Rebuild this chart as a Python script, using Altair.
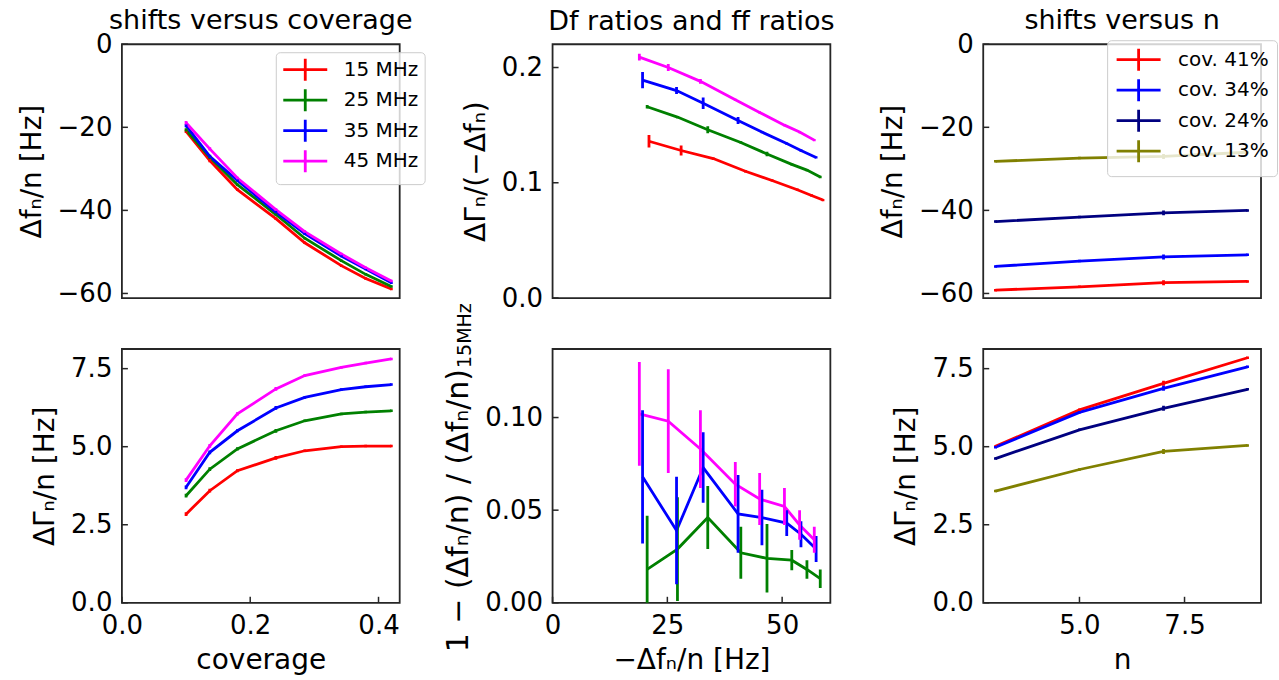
import altair as alt
import pandas as pd

FONT = "DejaVu Sans"
W, H = 278, 254

# ---------------- data ----------------
coverage = [0.10, 0.137, 0.18, 0.24, 0.285, 0.342, 0.38, 0.42]
freq_labels = ["15 MHz", "25 MHz", "35 MHz", "45 MHz"]
freq_colors = ["#ff0000", "#008000", "#0000ff", "#ff00ff"]

# Delta f_n / n [Hz] versus coverage
shift_15 = [-21.0, -28.0, -35.0, -42.0, -47.8, -53.3, -56.4, -58.9]
shift_25 = [-20.6, -27.2, -33.8, -41.0, -46.7, -52.1, -55.4, -58.3]
shift_35 = [-19.6, -27.0, -32.8, -40.4, -45.6, -51.0, -54.1, -57.4]
shift_45 = [-18.9, -25.2, -32.2, -39.8, -45.1, -50.5, -53.8, -57.0]
shift_err = [0.4, 0.4, 0.3, 0.3, 0.3, 0.3, 0.3, 0.3]

# Delta Gamma_n / n [Hz] versus coverage
width_15 = [2.84, 3.59, 4.23, 4.64, 4.87, 5.00, 5.02, 5.02]
width_25 = [3.43, 4.28, 4.93, 5.51, 5.83, 6.05, 6.11, 6.15]
width_35 = [3.70, 4.82, 5.51, 6.24, 6.58, 6.83, 6.92, 6.99]
width_45 = [3.93, 5.03, 6.05, 6.85, 7.28, 7.54, 7.68, 7.81]
width_err = [0.06, 0.06, 0.05, 0.06, 0.04, 0.04, 0.04, 0.04]

# Delta Gamma_n / (-Delta f_n)
ratio_15 = [0.136, 0.128, 0.121, 0.110, 0.102, 0.094, 0.089, 0.085]
ratio_25 = [0.166, 0.157, 0.146, 0.135, 0.125, 0.116, 0.111, 0.105]
ratio_35 = [0.189, 0.180, 0.169, 0.154, 0.144, 0.134, 0.128, 0.122]
ratio_45 = [0.209, 0.200, 0.188, 0.172, 0.161, 0.150, 0.144, 0.137]
ratio_err_15 = [0.0055, 0.0043, 0.001, 0.001, 0.001, 0.001, 0.001, 0.001]
ratio_err_25 = [0.0015, 0.001, 0.003, 0.001, 0.002, 0.001, 0.001, 0.001]
ratio_err_35 = [0.007, 0.003, 0.005, 0.003, 0.001, 0.001, 0.001, 0.001]
ratio_err_45 = [0.003, 0.003, 0.002, 0.001, 0.001, 0.001, 0.001, 0.001]

# 1 - (Delta f_n/n) / (Delta f_n/n)_15MHz
rel_25 = [0.018, 0.029, 0.046, 0.027, 0.024, 0.023, 0.018, 0.013]
rel_35 = [0.068, 0.039, 0.073, 0.048, 0.046, 0.043, 0.037, 0.029]
rel_45 = [0.102, 0.098, 0.083, 0.064, 0.056, 0.052, 0.042, 0.034]
rel_err_25 = [0.029, 0.028, 0.017, 0.014, 0.0185, 0.0055, 0.005, 0.005]
rel_err_35 = [0.036, 0.029, 0.019, 0.021, 0.015, 0.007, 0.007, 0.007]
rel_err_45 = [0.028, 0.028, 0.021, 0.012, 0.014, 0.010, 0.008, 0.007]

# versus overtone order n
n_values = [3, 5, 7, 9]
cov_labels = ["cov. 41%", "cov. 34%", "cov. 24%", "cov. 13%"]
cov_colors = ["#ff0000", "#0000ff", "#000080", "#808000"]
nshift_41 = [-59.2, -58.4, -57.4, -57.1]
nshift_34 = [-53.5, -52.2, -51.2, -50.7]
nshift_24 = [-42.7, -41.6, -40.6, -40.0]
nshift_13 = [-28.2, -27.4, -27.0, -26.0]
nshift_err = [0.3, 0.3, 0.6, 0.3]
nwidth_41 = [5.01, 6.18, 7.03, 7.85]
nwidth_34 = [4.98, 6.10, 6.87, 7.56]
nwidth_24 = [4.62, 5.54, 6.23, 6.84]
nwidth_13 = [3.58, 4.27, 4.85, 5.04]
nwidth_err = [0.04, 0.04, 0.08, 0.04]


def table(labels, xs, ys, es):
    rows = []
    for lab, x, y, e in zip(labels, xs, ys, es):
        for xi, yi, ei in zip(x, y, e):
            rows.append({"s": lab, "x": xi, "y": yi, "lo": yi - ei, "hi": yi + ei})
    return pd.DataFrame(rows)


shifts_f = [shift_15, shift_25, shift_35, shift_45]
neg_shifts = [[-v for v in s] for s in shifts_f]

d_tl = table(freq_labels, [coverage] * 4, shifts_f, [shift_err] * 4)
d_bl = table(freq_labels, [coverage] * 4, [width_15, width_25, width_35, width_45], [width_err] * 4)
d_tm = table(freq_labels, neg_shifts, [ratio_15, ratio_25, ratio_35, ratio_45],
             [ratio_err_15, ratio_err_25, ratio_err_35, ratio_err_45])
d_bm = table(freq_labels[1:], neg_shifts[1:], [rel_25, rel_35, rel_45],
             [rel_err_25, rel_err_35, rel_err_45])
d_tr = table(cov_labels, [n_values] * 4, [nshift_41, nshift_34, nshift_24, nshift_13], [nshift_err] * 4)
d_br = table(cov_labels, [n_values] * 4, [nwidth_41, nwidth_34, nwidth_24, nwidth_13], [nwidth_err] * 4)

AX = dict(labelFontSize=26, titleFontSize=28, labelFont=FONT, titleFont=FONT,
          labelColor="black", titleColor="black", titleFontWeight="normal",
          domain=False, ticks=False, grid=False, labelPadding=10,
          labelFlush=False, labelOverlap=False)
TICK = "#262626"


def make_legend(x, y, pad, loff):
    return alt.Legend(orient="none", legendX=x, legendY=y, title=None,
                      symbolType="M-1,0H3.4M1.2,-1.1V1.1", symbolSize=400,
                      symbolStrokeWidth=2.8, labelFontSize=20, labelFont=FONT,
                      labelColor="black", padding=pad, labelOffset=loff, rowPadding=-4.5,
                      fillColor="rgba(255,255,255,0.8)", strokeColor="#cccccc",
                      cornerRadius=4)


def panel(data, labels, colors, xdom, ydom, yvals, yfmt, ytitle,
          xvals=None, xfmt=None, xtitle=None, legend=None, title=None, toff=14, extra=None):
    color = alt.Color("s:N", scale=alt.Scale(domain=labels, range=colors), legend=legend)
    if xvals is not None:
        xaxis = alt.Axis(values=xvals, format=xfmt, title=xtitle, titlePadding=8, **AX)
    else:
        xaxis = None
    yaxis = alt.Axis(values=yvals, format=yfmt, title=ytitle, titlePadding=11, **AX)
    xs = alt.Scale(domain=xdom, nice=False, zero=False)
    ys = alt.Scale(domain=ydom, nice=False, zero=False)
    base = alt.Chart(data)
    lines = base.mark_line(strokeWidth=2.8, clip=True).encode(
        x=alt.X("x:Q", scale=xs, axis=xaxis),
        y=alt.Y("y:Q", scale=ys, axis=yaxis),
        color=color)
    bars = base.mark_rule(strokeWidth=2.8, clip=True).encode(
        x=alt.X("x:Q", scale=xs, axis=xaxis),
        y=alt.Y("lo:Q", scale=ys, axis=yaxis),
        y2="hi:Q",
        color=color)
    layers = [lines, bars]
    yt = alt.Chart(pd.DataFrame({"v": yvals})).mark_rule(color=TICK, strokeWidth=1.5).encode(
        y=alt.Y("v:Q", scale=ys, axis=yaxis), x=alt.value(0), x2=alt.value(6))
    layers.append(yt)
    if xvals is not None:
        xt = alt.Chart(pd.DataFrame({"v": xvals})).mark_rule(color=TICK, strokeWidth=1.5).encode(
            x=alt.X("v:Q", scale=xs, axis=xaxis), y=alt.value(H), y2=alt.value(H - 6))
        layers.append(xt)
    if extra:
        layers.extend(extra)
    ch = alt.layer(*layers).properties(width=W, height=H)
    if title:
        ch = ch.properties(title=alt.TitleParams(title, fontSize=27, font=FONT, fontWeight="normal",
                                                 color="black", frame="group", offset=toff,
                                                 baseline="alphabetic", anchor="middle"))
    return ch


COV_DOM = [0.0, 0.433]
SHIFT_DOM = [-61.1, 0.0]
WIDTH_DOM = [0.0, 8.13]
NEG_DOM = [0.0, 60.5]
N_DOM = [2.71, 9.32]

tl = panel(d_tl, freq_labels, freq_colors, COV_DOM, SHIFT_DOM, [0, -20, -40, -60], "d",
           "Δfₙ/n [Hz]", legend=make_legend(154, 8, 6, 39), title="shifts versus coverage",
           toff=-25)
tm = panel(d_tm, freq_labels, freq_colors, NEG_DOM, [0.0, 0.2202], [0.0, 0.1, 0.2], ".1f",
           "ΔΓₙ/(−Δfₙ)", title="Df ratios and ff ratios", toff=-13)
tr = panel(d_tr, cov_labels, cov_colors, N_DOM, SHIFT_DOM, [0, -20, -40, -60], "d",
           "Δfₙ/n [Hz]", legend=make_legend(124, -4, 8, 40), title="shifts versus n",
           toff=-25)

bl = panel(d_bl, freq_labels, freq_colors, COV_DOM, WIDTH_DOM, [0.0, 2.5, 5.0, 7.5], ".1f",
           "ΔΓₙ/n [Hz]", xvals=[0.0, 0.2, 0.4], xfmt=".1f", xtitle="coverage")

title_main = alt.Chart(pd.DataFrame({"t": ["1 − (Δfₙ/n) / (Δfₙ/n)"]})).mark_text(
    angle=270, align="right", baseline="middle", fontSize=30, font=FONT, color="black"
).encode(text="t:N", x=alt.value(-94), y=alt.value(20))
title_sub = alt.Chart(pd.DataFrame({"t": ["15MHz"]})).mark_text(
    angle=270, align="left", baseline="middle", fontSize=19, font=FONT, color="black"
).encode(text="t:N", x=alt.value(-88), y=alt.value(19))

bm = panel(d_bm, freq_labels, freq_colors, NEG_DOM, [0.0, 0.137], [0.0, 0.05, 0.10], ".2f",
           None, xvals=[0, 25, 50], xfmt="d", xtitle="−Δfₙ/n [Hz]",
           extra=[title_main, title_sub])
br = panel(d_br, cov_labels, cov_colors, N_DOM, WIDTH_DOM, [0.0, 2.5, 5.0, 7.5], ".1f",
           "ΔΓₙ/n [Hz]", xvals=[5.0, 7.5], xfmt=".1f", xtitle="n")

chart = alt.concat(tl, tm, tr, bl, bm, br, columns=3,
                   spacing={"row": 51, "column": 153}, bounds="flush").resolve_scale(
    x="independent", y="independent", color="independent"
).resolve_legend(color="independent").properties(
    padding={"left": 17, "top": 6, "right": 0, "bottom": 0},
    background="white"
).configure(font=FONT).configure_view(stroke="#262626", strokeWidth=1.8)

chart.save("out.html", embed_options={"renderer": "svg", "actions": False})
